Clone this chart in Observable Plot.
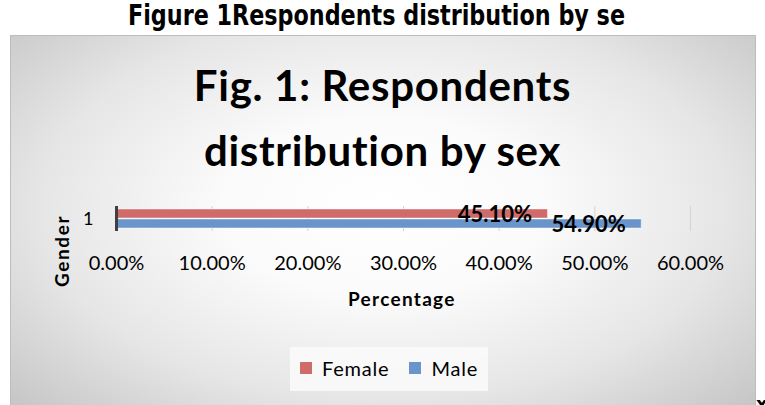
<!DOCTYPE html>
<html>
<head>
<meta charset="utf-8">
<script src="https://cdn.jsdelivr.net/npm/d3@7"></script>
<script src="https://cdn.jsdelivr.net/npm/@observablehq/plot@0.6"></script>
<style>
  html, body { margin: 0; padding: 0; background: #fff; }
  #page { position: relative; width: 765px; height: 405px; overflow: hidden; font-family: Lato, "Open Sans", sans-serif; font-variant-ligatures: none; }
  #outerTitle { position: absolute; left: 0; top: 0; }
  #box { position: absolute; left: 10px; top: 35px; width: 744px; height: 380px; border: 1px solid #bdbdbd;
    background: radial-gradient(ellipse farthest-corner at 50% 45%, #ffffff 0%, #fbfbfb 30%, #e6e6e6 65%, #c3c3c3 100%); }
  #title { position: absolute; left: 0; width: 765px; top: 53px; text-align: center; font-family: Lato, sans-serif;
    font-weight: bold; font-size: 42px; line-height: 65px; letter-spacing: 0.7px; color: #000; font-variant-ligatures: none; }
  #gender { position: absolute; left: 61px; top: 251px; transform: translate(-50%, -50%) rotate(-90deg);
    font-family: Lato, sans-serif; font-weight: bold; font-size: 19px; letter-spacing: 1.6px; white-space: nowrap; }
  #xlabel { position: absolute; left: 348px; top: 287px; white-space: nowrap; font-family: Lato, sans-serif;
    font-weight: bold; font-size: 19px; letter-spacing: 1.3px; }
  #plotwrap { position: absolute; left: 0; top: 190px; }
  #legendwrap { position: absolute; left: 290px; top: 347px; width: 198px; height: 44px; background: rgba(250,250,250,0.9); }
  #legendwrap .lg { position: absolute; left: 10px; top: 4px; margin: 0; width: 260px; white-space: nowrap; }
  #xfrag { position: absolute; left: 756px; top: 393px; font-family: "DejaVu Sans", sans-serif; font-weight: bold; font-size: 18px; }
</style>
</head>
<body>
<div id="page">
  <svg id="outerTitle" width="765" height="34">
    <text x="128" y="25" textLength="497" lengthAdjust="spacingAndGlyphs"
      style="font-family: 'DejaVu Sans', sans-serif; font-weight: bold; font-size: 28px; fill: #000;">Figure 1Respondents distribution by se</text>
  </svg>
  <div id="box"></div>
  <div id="title">Fig. 1: Respondents<br>distribution by sex</div>
  <div id="plotwrap"></div>
  <div id="gender">Gender</div>
  <div id="xlabel">Percentage</div>
  <div id="legendwrap"></div>
  <div id="xfrag">x</div>
</div>
<script>
// ---- data ----
const categories = ["1"];
const series = ["Female", "Male"];
const values = [45.10, 54.90];
const colors = ["#cf6b69", "#6995cb"];
const xTicks = [0, 10, 20, 30, 40, 50, 60];

const data = series.map((s, i) => ({cat: categories[0], sex: s, value: values[i]}));
const fmt = d => d.toFixed(2) + "%";

const plot = Plot.plot({
  width: 765,
  height: 111,
  marginLeft: 116,
  marginRight: 75,
  marginTop: 16,
  marginBottom: 70,
  style: {background: "transparent", fontFamily: "Lato, sans-serif", color: "#000"},
  x: {domain: [0, 60], ticks: xTicks},
  y: {domain: series, paddingInner: 0.1, paddingOuter: 0.3, axis: null},
  fy: {domain: categories, padding: 0, label: null},
  color: {domain: series, range: colors},
  marks: [
    Plot.gridX(xTicks.filter(d => d > 0), {stroke: "#d4d4d4", strokeOpacity: 1, strokeWidth: 1}),
    Plot.barX(data, {x: "value", y: "sex", fy: "cat", fill: "sex", stroke: "#ffffff", strokeOpacity: 0.45, strokeWidth: 1}),
    Plot.ruleX([0], {stroke: "#404040", strokeWidth: 3}),
    Plot.axisX(xTicks, {tickSize: 0, tickPadding: 24, tickFormat: fmt, fontSize: 20, label: null}),
    Plot.axisFy({anchor: "left", tickSize: 0, tickPadding: 23, fontSize: 18, label: null}),
    Plot.text(data, {x: "value", y: "sex", fy: "cat", text: d => fmt(d.value), textAnchor: "end", dx: -16, dy: 1,
      fontWeight: "bold", fontSize: 22, fontFamily: "Lato, sans-serif", fill: "#000"})
  ]
});
document.getElementById("plotwrap").appendChild(plot);

const legend = plot.legend("color", {swatchSize: 12, swatchWidth: 12, swatchHeight: 12,
  style: {fontFamily: "Lato, sans-serif", fontSize: "20px", color: "#000", letterSpacing: "0.8px"}});
legend.classList.add("lg");
document.getElementById("legendwrap").appendChild(legend);
</script>
</body>
</html>
